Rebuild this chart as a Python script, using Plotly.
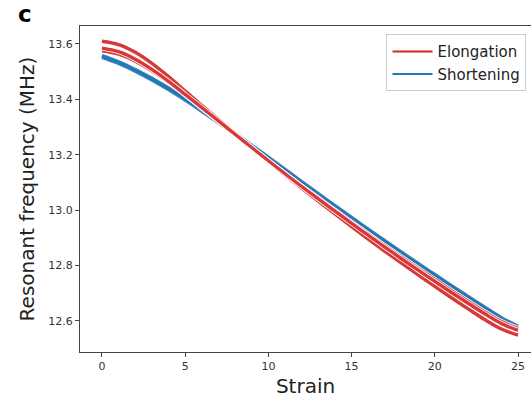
import plotly.graph_objects as go

strain = list(range(0, 26))

elong_1 = [13.610, 13.598, 13.570, 13.530, 13.482, 13.430, 13.378, 13.327, 13.276, 13.226,
           13.176, 13.127, 13.079, 13.032, 12.986, 12.940, 12.895, 12.851, 12.808, 12.766,
           12.724, 12.683, 12.643, 12.604, 12.570, 12.548]
elong_2 = [13.585, 13.572, 13.545, 13.508, 13.465, 13.418, 13.370, 13.322, 13.274, 13.226,
           13.178, 13.131, 13.085, 13.040, 12.996, 12.952, 12.909, 12.866, 12.824, 12.783,
           12.742, 12.702, 12.663, 12.625, 12.590, 12.565]
elong_3 = [13.575, 13.563, 13.538, 13.503, 13.462, 13.416, 13.368, 13.320, 13.272, 13.225,
           13.178, 13.132, 13.087, 13.043, 12.999, 12.956, 12.913, 12.871, 12.830, 12.789,
           12.749, 12.709, 12.670, 12.632, 12.597, 12.572]
short_1 = [13.558, 13.536, 13.508, 13.476, 13.441, 13.403, 13.363, 13.321, 13.278, 13.234,
           13.191, 13.147, 13.103, 13.059, 13.016, 12.973, 12.931, 12.889, 12.848, 12.807,
           12.767, 12.727, 12.688, 12.649, 12.611, 12.580]
short_2 = [13.552, 13.530, 13.502, 13.470, 13.435, 13.397, 13.357, 13.315, 13.272, 13.228,
           13.185, 13.141, 13.097, 13.054, 13.011, 12.968, 12.926, 12.884, 12.843, 12.802,
           12.762, 12.722, 12.683, 12.644, 12.606, 12.574]

x_ticks = [0, 5, 10, 15, 20, 25]
y_ticks = [12.6, 12.8, 13.0, 13.2, 13.4, 13.6]

RED = "#d62728"
BLUE = "#1f77b4"

fig = go.Figure()

def add_curve(y, color, under=True):
    if under:
        fig.add_trace(go.Scatter(x=strain, y=y, mode="lines", line=dict(color="white", width=5, shape="spline"),
                                 showlegend=False, hoverinfo="skip"))
    fig.add_trace(go.Scatter(x=strain, y=y, mode="lines", line=dict(color=color, width=3.4, shape="spline"),
                             opacity=0.92, showlegend=False))

for y in [short_1, short_2]:
    add_curve(y, BLUE, under=False)
for y in [elong_1, elong_3, elong_2]:
    add_curve(y, RED)

fig.add_trace(go.Scatter(x=[None], y=[None], mode="lines", line=dict(color=RED, width=2), name="Elongation"))
fig.add_trace(go.Scatter(x=[None], y=[None], mode="lines", line=dict(color=BLUE, width=2), name="Shortening"))

fig.update_layout(
    width=531, height=403,
    margin=dict(l=80, r=0, t=26, b=51),
    plot_bgcolor="white", paper_bgcolor="white",
    font=dict(family="DejaVu Sans", color="#222"),
    showlegend=True,
    legend=dict(x=0.99, y=0.975, xanchor="right", yanchor="top",
                bgcolor="white", bordercolor="#cccccc", borderwidth=1,
                font=dict(size=15, color="#222"), itemwidth=40, tracegroupgap=0),
    annotations=[dict(text="<b>c</b>", xref="paper", yref="paper", x=-0.122, y=1.037,
                      xanchor="center", yanchor="middle", showarrow=False,
                      font=dict(size=23, color="black", family="DejaVu Sans"))],
)
fig.update_xaxes(range=[-1.32, 25.78], tickvals=x_ticks, ticktext=[str(v) for v in x_ticks],
                 showline=True, linecolor="#444", linewidth=1.3, mirror=True,
                 ticks="outside", ticklen=4, tickcolor="#444", showgrid=False, zeroline=False,
                 tickfont=dict(size=11, color="#333"),
                 title=dict(text="Strain", font=dict(size=20, color="#222"), standoff=6))
fig.update_yaxes(range=[12.487, 13.665], tickvals=y_ticks, ticktext=[f"{v:.1f}" for v in y_ticks],
                 showline=True, linecolor="#444", linewidth=1.3, mirror=False,
                 ticks="outside", ticklen=4, tickcolor="#444", showgrid=False, zeroline=False,
                 tickfont=dict(size=11, color="#333"),
                 title=dict(text="Resonant frequency (MHz)", font=dict(size=20, color="#222"), standoff=8))

fig.write_html("out.html", config={"displayModeBar": False},
               post_script="document.body.style.margin='0';document.body.style.overflow='hidden';")
